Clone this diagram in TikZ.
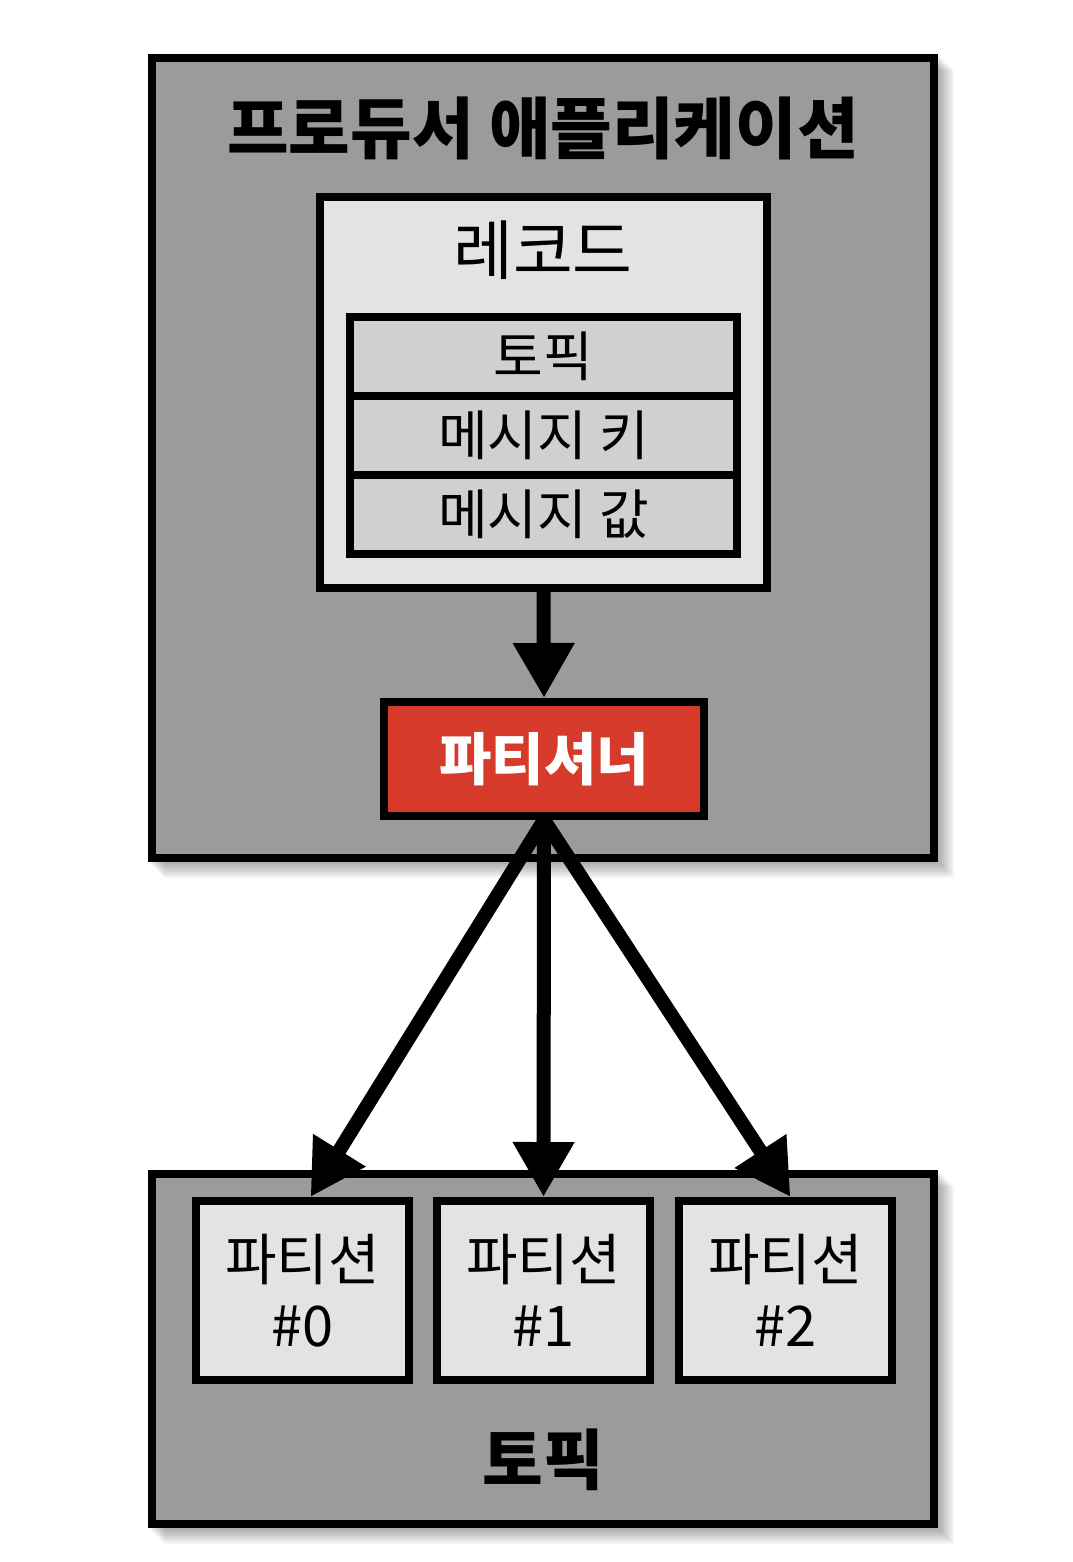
\documentclass[tikz,border=0pt]{standalone}
\usepackage{fontspec}
\setmainfont{Noto Sans CJK KR}
\usetikzlibrary{arrows.meta}
\definecolor{outergray}{HTML}{9B9B9B}
\definecolor{lightbox}{HTML}{E3E3E3}
\definecolor{fieldgray}{HTML}{D0D0D0}
\definecolor{partred}{HTML}{D63A2A}
\tikzset{
  bigbox/.style={draw=black, line width=8pt, fill=outergray, anchor=north west, inner sep=0pt},
  recbox/.style={draw=black, line width=8pt, fill=lightbox, anchor=north west, inner sep=0pt},
  fieldbox/.style={draw=black, line width=8pt, fill=fieldgray, anchor=north west, inner sep=0pt,
     minimum width=387pt, minimum height=79pt, font=\fontsize{54}{60}\selectfont},
  redbox/.style={draw=black, line width=8pt, fill=partred, anchor=north west, inner sep=0pt,
     minimum width=320pt, minimum height=114pt, text=white, font=\fontsize{57}{60}\selectfont\bfseries},
  partbox/.style={draw=black, line width=8pt, fill=lightbox, anchor=north west, inner sep=0pt,
     minimum width=213pt, minimum height=179pt, align=center, font=\fontsize{56}{66}\selectfont},
  bigarrow/.style={line width=14pt, -{Triangle[length=55pt,width=58pt]}},
  lbl/.style={inner sep=0pt}
}
\newcommand{\softshadow}[4]{%
  \foreach \i in {2,4,...,16}{%
    \fill[black, opacity=0.045] (#1+\i, #2+\i) rectangle (#3+\i, #4+\i);
  }%
}
\begin{document}
\begin{tikzpicture}[x=1pt, y=-1pt]
\useasboundingbox (0,0) rectangle (1072,1562);
\fill[white] (0,0) rectangle (1072,1562);
% shadows
\softshadow{148}{54}{938}{862}
\softshadow{148}{1170}{938}{1528}
% producer application
\node[bigbox, minimum width=782pt, minimum height=800pt] (prod) at (148,54) {};
\node[lbl, font=\fontsize{67}{70}\selectfont\bfseries] (prodlbl) at (543,128) {프로듀서 애플리케이션};
% record
\node[recbox, minimum width=447pt, minimum height=391pt] (rec) at (316,193) {};
\node[lbl, font=\fontsize{65}{70}\selectfont] (reclbl) at (543,250) {레코드};
\node[fieldbox] (ftopic) at (346,313) {토픽};
\node[fieldbox] (fkey) at (346,392) {메시지 키};
\node[fieldbox] (fval) at (346,471) {메시지 값};
% partitioner
\node[redbox] (part) at (380,698) {파티셔너};
% topic
\node[bigbox, minimum width=782pt, minimum height=350pt] (topic) at (148,1170) {};
\node[partbox] (p0) at (192,1197) {파티션\\\#0};
\node[partbox] (p1) at (433,1197) {파티션\\\#1};
\node[partbox] (p2) at (675,1197) {파티션\\\#2};
\node[lbl, font=\fontsize{66}{70}\selectfont\bfseries] (topiclbl) at (543,1460) {토픽};
% arrows
\draw[bigarrow] (rec.south) -- (part.north);
\coordinate (t0) at ([xshift=8pt]p0.north);
\coordinate (t2) at ([xshift=5pt]p2.north);
\draw[bigarrow] (part.south) -- (t0);
\draw[bigarrow] (part.south) -- (p1.north);
\draw[bigarrow] (part.south) -- (t2);
\end{tikzpicture}
\end{document}
